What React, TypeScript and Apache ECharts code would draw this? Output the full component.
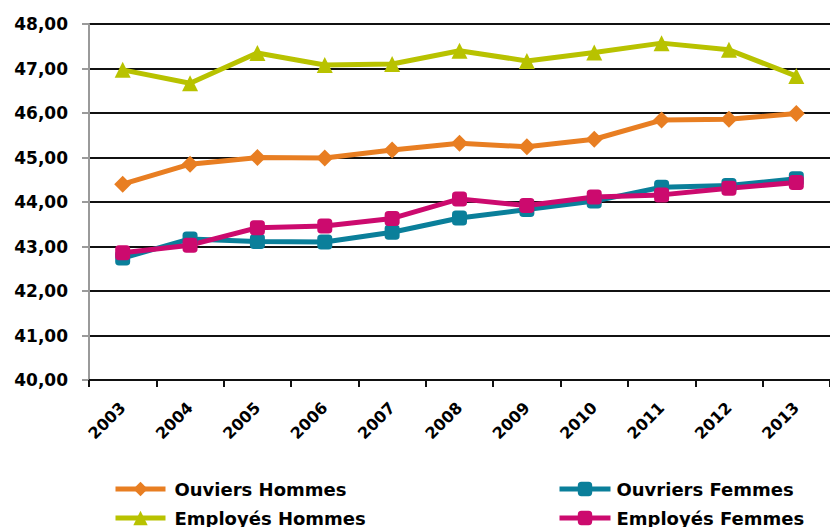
import React, { useEffect, useRef } from "react";
import * as echarts from "echarts";

const years = ["2003", "2004", "2005", "2006", "2007", "2008", "2009", "2010", "2011", "2012", "2013"];
const ouvriersHommes = [44.4, 44.85, 45.0, 44.99, 45.17, 45.32, 45.24, 45.41, 45.84, 45.86, 45.99];
const ouvriersFemmes = [42.74, 43.17, 43.11, 43.1, 43.32, 43.64, 43.83, 44.02, 44.33, 44.37, 44.52];
const employesHommes = [46.97, 46.67, 47.35, 47.08, 47.1, 47.4, 47.17, 47.36, 47.57, 47.42, 46.83];
const employesFemmes = [42.86, 43.03, 43.42, 43.46, 43.63, 44.07, 43.92, 44.11, 44.16, 44.31, 44.44];
const seriesNames = ["Ouviers Hommes", "Ouvriers Femmes", "Employés Hommes", "Employés Femmes"];
const colors = ["#E87E22", "#0A7F9A", "#B8C200", "#CC0A6E"];

const FONT = "DejaVu Sans";

export default function App() {
  const ref = useRef<HTMLDivElement>(null);
  useEffect(() => {
    if (!ref.current) return;
    const chart = echarts.init(ref.current, null, { renderer: "svg" });
    const mk = (name: string, data: number[], color: string, symbol: string, size: number) => ({
      name,
      type: "line",
      data,
      symbol,
      symbolSize: size,
      lineStyle: { color, width: 5 },
      itemStyle: { color },
      emphasis: { disabled: true },
    });
    const legendText = {
      fontFamily: FONT,
      fontWeight: "bold",
      fontSize: 18,
      color: "#000",
      lineHeight: 20,
      padding: [0, 0, 0, 4],
    };
    const lg = (name: string, left: number, top: number, width: number, pad: number) => ({
      orient: "horizontal",
      left,
      top,
      itemWidth: width,
      itemHeight: 18,
      data: [name],
      lineStyle: { width: 5 },
      textStyle: { ...legendText, padding: [0, 0, 0, pad] },
      selectedMode: false,
      padding: 0,
    });
    chart.setOption({
      animation: false,
      color: colors,
      grid: { left: 89, top: 24, width: 748, height: 356 },
      legend: [
        lg(seriesNames[0], 113, 479, 50, 4),
        lg(seriesNames[2], 113, 508, 50, 4),
        lg(seriesNames[1], 557, 479, 51, 1),
        lg(seriesNames[3], 557, 508, 51, 1),
      ],
      xAxis: {
        type: "category",
        data: years,
        boundaryGap: true,
        axisLine: { lineStyle: { color: "#111", width: 2 } },
        axisTick: { show: true, length: 7, lineStyle: { color: "#111", width: 2 } },
        axisLabel: {
          rotate: 45,
          margin: 25,
          fontFamily: FONT,
          fontWeight: "bold",
          fontSize: 16,
          color: "#000",
        },
        splitLine: { show: false },
      },
      yAxis: {
        type: "value",
        min: 40,
        max: 48,
        interval: 1,
        axisLine: { show: true, lineStyle: { color: "#9a9a9a", width: 2 } },
        axisTick: { show: true, length: 7, lineStyle: { color: "#9a9a9a", width: 2 } },
        axisLabel: {
          margin: 21,
          fontFamily: FONT,
          fontWeight: "bold",
          fontSize: 17,
          color: "#000",
          formatter: (v: number) => v.toFixed(2).replace(".", ","),
        },
        splitLine: { show: true, lineStyle: { color: "#111", width: 2 } },
      },
      series: [
        mk(seriesNames[0], ouvriersHommes, colors[0], "diamond", 17),
        mk(seriesNames[1], ouvriersFemmes, colors[1], "roundRect", 15),
        mk(seriesNames[2], employesHommes, colors[2], "triangle", 16),
        mk(seriesNames[3], employesFemmes, colors[3], "roundRect", 15),
      ],
    });
    return () => chart.dispose();
  }, []);
  return (
    <div
      ref={ref}
      style={{ position: "fixed", left: 0, top: 0, width: 830, height: 527, background: "#fff" }}
    />
  );
}
